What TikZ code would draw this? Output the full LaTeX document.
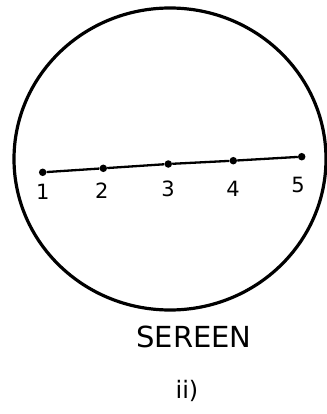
\documentclass[tikz,border=0pt]{standalone}
\usepackage{fontspec}
\setmainfont{DejaVu Sans}
\begin{document}
\begin{tikzpicture}[x=1pt,y=-1pt,
  dotpt/.style={circle,fill=black,inner sep=0pt,minimum size=7.5pt},
  numlbl/.style={font=\fontsize{21}{22}\selectfont},
  screen/.style={draw=black,line width=3.2pt}]
\useasboundingbox (0,0) rectangle (326,414);
\draw[screen] (170,159) ellipse [x radius=156, y radius=151];
\node[dotpt] (p1) at (42.7,172.3) {};
\node[dotpt] (p2) at (103.3,168.3) {};
\node[dotpt] (p3) at (168.3,164) {};
\node[dotpt] (p4) at (233.3,160.7) {};
\node[dotpt] (p5) at (301.7,156.7) {};
\draw[line width=2.3pt] (p1) -- (p2) -- (p3) -- (p4) -- (p5);
\node[numlbl] (l1) at (42.7,192) {1};
\node[numlbl] (l2) at (101.7,191) {2};
\node[numlbl] (l3) at (168,189) {3};
\node[numlbl] (l4) at (233,189) {4};
\node[numlbl] (l5) at (298,185) {5};
\node[font=\fontsize{29}{30}\selectfont] (cap) at (194,337) {SEREEN};
\node[font=\fontsize{24}{26}\selectfont] (num) at (187,391) {ii)};
\end{tikzpicture}
\end{document}
